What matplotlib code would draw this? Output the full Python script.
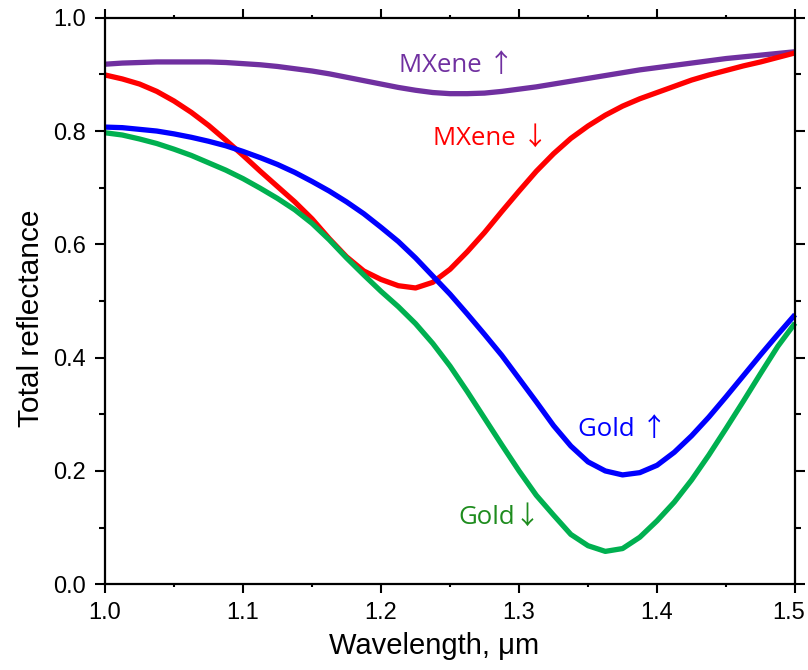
import matplotlib
matplotlib.use("Agg")
import matplotlib.pyplot as plt
from matplotlib.ticker import MultipleLocator

# Wavelength grid (um) and total reflectance for each configuration
wavelength = [1.0000, 1.0125, 1.0250, 1.0375, 1.0500, 1.0625, 1.0750, 1.0875, 1.1000, 1.1125,
              1.1250, 1.1375, 1.1500, 1.1625, 1.1750, 1.1875, 1.2000, 1.2125, 1.2250, 1.2375,
              1.2500, 1.2625, 1.2750, 1.2875, 1.3000, 1.3125, 1.3250, 1.3375, 1.3500, 1.3625,
              1.3750, 1.3875, 1.4000, 1.4125, 1.4250, 1.4375, 1.4500, 1.4625, 1.4750, 1.4875,
              1.5000]

mxene_up = [0.918, 0.920, 0.921, 0.922, 0.922, 0.922, 0.922, 0.921, 0.919, 0.917,
            0.914, 0.910, 0.906, 0.901, 0.895, 0.889, 0.883, 0.877, 0.872, 0.868,
            0.866, 0.866, 0.867, 0.870, 0.874, 0.878, 0.883, 0.888, 0.893, 0.898,
            0.903, 0.908, 0.912, 0.916, 0.920, 0.924, 0.928, 0.931, 0.934, 0.937,
            0.940]
mxene_down = [0.899, 0.892, 0.883, 0.870, 0.853, 0.833, 0.810, 0.784, 0.757, 0.729,
              0.702, 0.675, 0.645, 0.610, 0.578, 0.553, 0.538, 0.527, 0.523, 0.533,
              0.556, 0.587, 0.621, 0.658, 0.694, 0.729, 0.760, 0.787, 0.809, 0.828,
              0.844, 0.857, 0.868, 0.879, 0.890, 0.899, 0.907, 0.915, 0.922, 0.930,
              0.938]
gold_up = [0.807, 0.806, 0.803, 0.800, 0.795, 0.789, 0.782, 0.774, 0.764, 0.753,
           0.741, 0.727, 0.711, 0.694, 0.675, 0.654, 0.630, 0.605, 0.576, 0.544,
           0.512, 0.477, 0.441, 0.404, 0.363, 0.322, 0.280, 0.244, 0.216, 0.200,
           0.193, 0.197, 0.210, 0.233, 0.262, 0.295, 0.331, 0.368, 0.405, 0.441,
           0.476]
gold_down = [0.797, 0.793, 0.786, 0.778, 0.768, 0.757, 0.744, 0.731, 0.716, 0.699,
             0.681, 0.661, 0.637, 0.608, 0.576, 0.546, 0.517, 0.490, 0.460, 0.425,
             0.385, 0.340, 0.293, 0.246, 0.200, 0.157, 0.122, 0.088, 0.068, 0.058,
             0.063, 0.083, 0.112, 0.145, 0.184, 0.228, 0.275, 0.323, 0.372, 0.420,
             0.461]

series = [
    (mxene_up, "#7030A0"),
    (mxene_down, "#FF0000"),
    (gold_up, "#0000FF"),
    (gold_down, "#00B050"),
]

labels = [
    ("MXene \u2191", 1.255, 0.915, "#7030A0"),
    ("MXene \u2193", 1.279, 0.788, "#FF0000"),
    ("Gold \u2191", 1.375, 0.274, "#0000FF"),
    ("Gold\u2193", 1.286, 0.118, "#1E8C1E"),
]

x_ticks = [1.0, 1.1, 1.2, 1.3, 1.4, 1.5]

fig = plt.figure(figsize=(8.08, 6.70), dpi=100)
ax = fig.add_axes([0.130, 0.128, 0.854, 0.8455])

for values, color in series:
    ax.plot(wavelength, values, color=color, lw=3.8, solid_joinstyle="round",
            solid_capstyle="butt", clip_on=False)

for text, x, y, color in labels:
    ax.text(x, y, text, color=color, fontsize=18.5, ha="center", va="center",
            family=["Open Sans", "Noto Sans CJK JP"])

ax.set_xlim(1.0, 1.5)
ax.set_ylim(0.0, 1.0)
ax.set_xticks(x_ticks)
ax.xaxis.set_minor_locator(MultipleLocator(0.05))
ax.yaxis.set_major_locator(MultipleLocator(0.2))
ax.yaxis.set_minor_locator(MultipleLocator(0.1))
# the rightmost wavelength label is drawn separately, nudged to stay inside the figure
ax.set_xticklabels([f"{v:.1f}" for v in x_ticks[:-1]] + [""])
ax.yaxis.set_major_formatter(plt.FuncFormatter(lambda v, p: f"{v:.1f}"))

for s in ax.spines.values():
    s.set_linewidth(1.6)

ax.tick_params(which="both", direction="out", top=True, right=True, width=1.5,
               labelsize=17, pad=6)
ax.tick_params(axis="x", which="major", length=6.5)
ax.tick_params(axis="x", which="minor", length=2)
ax.tick_params(axis="y", which="major", length=7.5)
ax.tick_params(axis="y", which="minor", length=4.5)
for lab in ax.get_xticklabels() + ax.get_yticklabels():
    lab.set_family("Liberation Sans")

ax.annotate(f"{x_ticks[-1]:.1f}", xy=(x_ticks[-1], 0.0), xycoords="data",
            xytext=(-5, -12.5), textcoords="offset points", ha="center", va="top",
            fontsize=17, family="Liberation Sans", annotation_clip=False)

ax.set_xlabel("Wavelength, \u03bcm", fontsize=21, family="Liberation Sans")
ax.set_ylabel("Total reflectance", fontsize=21.5, family="Liberation Sans")
ax.xaxis.set_label_coords(0.477, -0.085)
ax.yaxis.set_label_coords(-0.087, 0.47)

fig.savefig("out.png", dpi=100)
